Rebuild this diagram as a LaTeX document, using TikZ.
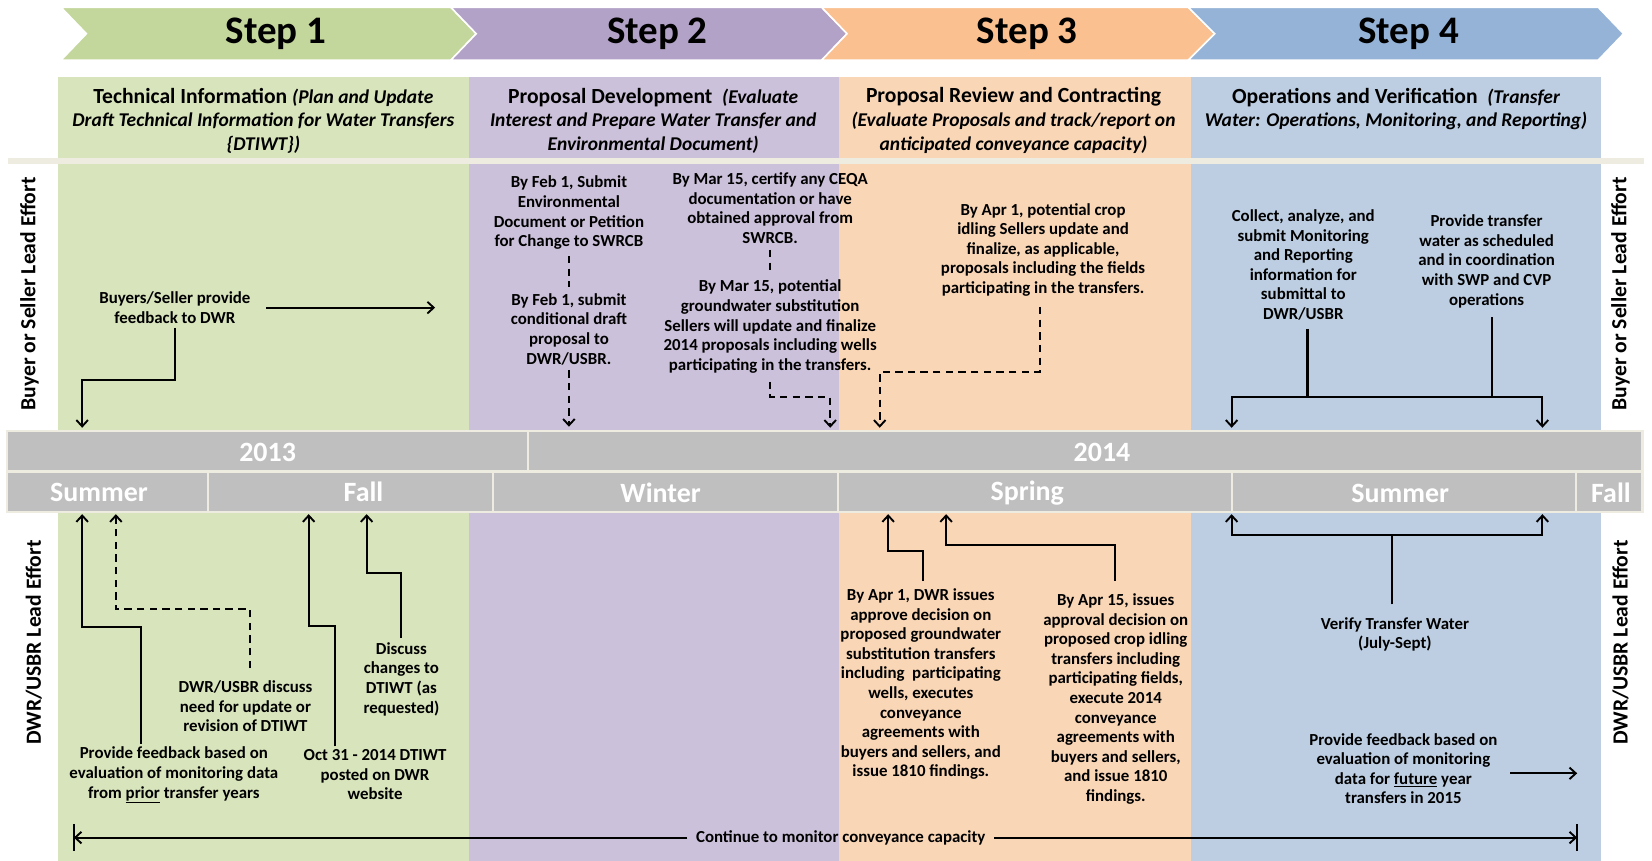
\documentclass[tikz,border=0pt]{standalone}
\usepackage{fontspec}
\setmainfont{Carlito}
\usetikzlibrary{arrows.meta,calc}
\definecolor{chA}{HTML}{C3D69B}
\definecolor{chB}{HTML}{B3A2C7}
\definecolor{chC}{HTML}{FAC090}
\definecolor{chD}{HTML}{95B3D7}
\definecolor{coA}{HTML}{D8E4BC}
\definecolor{coB}{HTML}{CCC1DA}
\definecolor{coC}{HTML}{F9D6B6}
\definecolor{coD}{HTML}{BDCEE2}
\definecolor{barG}{HTML}{BFBFBF}
\definecolor{cream}{HTML}{EEECE1}
\newcommand\hit[1]{{\fontsize{18.5}{22.5}\selectfont\itshape #1}}
\begin{document}
\begin{tikzpicture}[x=1pt,y=-1pt,
  chev/.style={draw=white,line width=1.5pt},
  steptxt/.style={font=\bfseries\fontsize{37}{40}\selectfont},
  hd/.style={font=\bfseries\fontsize{20.5}{22.5}\selectfont,align=center,inner sep=1pt},
  tx/.style={font=\bfseries\fontsize{16}{18.6}\selectfont,align=center,inner sep=2pt},
  side/.style={font=\bfseries\fontsize{20.5}{22}\selectfont,rotate=90,inner sep=0pt},
  bartxt/.style={font=\bfseries\fontsize{26.5}{28}\selectfont,text=white,inner sep=0pt},
  ln/.style={line width=1.9pt,draw=black},
  dl/.style={ln,dash pattern=on 7pt off 5pt},
  arr/.style={-{Straight Barb[length=6pt,width=11pt,line width=1.8pt]}}]
\useasboundingbox (0,0) rectangle (1568,817);
\fill[white] (0,0) rectangle (1568,817);
% columns
\fill[coA] (55,73) rectangle (445,817);
\fill[coB] (445,73) rectangle (796,817);
\fill[coC] (796,73) rectangle (1130,817);
\fill[coD] (1130,73) rectangle (1520,817);
\fill[cream] (8,150) rectangle (1560,156);
% chevrons
\filldraw[chev,fill=chA] (58,7) -- (428,7) -- (452,32) -- (428,57) -- (58,57) -- (82,32) -- cycle;
\filldraw[chev,fill=chB] (428,7) -- (780,7) -- (804,32) -- (780,57) -- (428,57) -- (452,32) -- cycle;
\filldraw[chev,fill=chC] (780,7) -- (1128,7) -- (1153,32) -- (1128,57) -- (780,57) -- (804,32) -- cycle;
\filldraw[chev,fill=chD] (1128,7) -- (1517,7) -- (1541,32) -- (1517,57) -- (1128,57) -- (1153,32) -- cycle;
\node[steptxt] (s1) at (262,32) {Step 1};
\node[steptxt] (s2) at (624,32) {Step 2};
\node[steptxt] (s3) at (975,32) {Step 3};
\node[steptxt] (s4) at (1337,32) {Step 4};
% headers
\node[hd] (h1) at (250,114.5) {Technical Information \hit{(Plan and Update}\\ \hit{Draft Technical Information for Water Transfers}\\ \hit{\{DTIWT\})}};
\node[hd] (h2) at (620,114.5) {Proposal Development \ \hit{(Evaluate}\\ \hit{Interest and Prepare Water Transfer and}\\ \hit{Environmental Document)}};
\node[hd] (h3) at (962,114.5) {Proposal Review and Contracting\\ \hit{(Evaluate Proposals and track/report on}\\ \hit{anticipated conveyance capacity)}};
\node[hd] (h4) at (1325,103.5) {Operations and Verification \ \hit{(Transfer}\\ \hit{Water: Operations, Monitoring, and Reporting)}};
% side labels
\node[side] (sl1) at (28,279) {Buyer or Seller Lead Effort};
\node[side] (sr1) at (1538,279) {Buyer or Seller Lead Effort};
\node[side] (sl2) at (32,610) {DWR/USBR Lead Effort};
\node[side] (sr2) at (1538,610) {DWR/USBR Lead Effort};
% bars
\fill[cream] (6,408) rectangle (1560,487);
\fill[barG] (8,410) rectangle (500,446);
\fill[barG] (502,410) rectangle (1558,446);
\fill[barG] (8,449) rectangle (196,485);
\fill[barG] (198,449) rectangle (467,485);
\fill[barG] (469,449) rectangle (794,485);
\fill[barG] (796,449) rectangle (1168,485);
\fill[barG] (1170,449) rectangle (1495,485);
\fill[barG] (1497,449) rectangle (1558,485);
\node[bartxt] (y13) at (254,429) {2013};
\node[bartxt] (y14) at (1046,429) {2014};
\node[bartxt] (se1) at (94,467) {Summer};
\node[bartxt] (se2) at (345,467) {Fall};
\node[bartxt] (se3) at (627,468) {Winter};
\node[bartxt] (se4) at (975,468) {Spring};
\node[bartxt] (se5) at (1329,468) {Summer};
\node[bartxt] (se6) at (1529,468) {Fall};
% ---------- upper texts
\node[tx] (bsfb) at (166,292) {Buyers/Seller provide\\feedback to DWR};
\node[tx] (feba) at (540,202) {By Feb 1, Submit\\Environmental\\Document or Petition\\for Change to SWRCB};
\node[tx] (febb) at (540,312.5) {By Feb 1, submit\\conditional draft\\proposal to\\DWR/USBR.};
\node[tx] (mara) at (731,197.5) {By Mar 15, certify any CEQA\\documentation or have\\obtained approval from\\SWRCB.};
\node[tx] (marb) at (731,310) {By Mar 15, potential\\groundwater substitution\\Sellers will update and finalize\\2014 proposals including wells\\participating in the transfers.};
\node[tx] (apra) at (990,237) {By Apr 1, potential crop\\idling Sellers update and\\finalize, as applicable,\\proposals including the fields\\participating in the transfers.};
\node[tx] (coll) at (1237,251.5) {Collect, analyze, and\\submit Monitoring\\and Reporting\\information for\\submittal to\\DWR/USBR};
\node[tx] (prov) at (1411,248) {Provide transfer\\water as scheduled\\and in coordination\\with SWP and CVP\\operations};
% ---------- lower texts
\node[tx] (prior) at (165,735.5) {Provide feedback based on\\evaluation of monitoring data\\from \underline{prior} transfer years};
\node[tx] (ddisc) at (233,670.5) {DWR/USBR discuss\\need for update or\\revision of DTIWT};
\node[tx] (oct) at (356,735.5) {Oct 31 - 2014 DTIWT\\posted on DWR\\website};
\node[tx] (disc) at (381,644.5) {Discuss\\changes to\\DTIWT (as\\requested)};
\node[tx] (aprdwr) at (874,649.5) {By Apr 1, DWR issues\\approve decision on\\proposed groundwater\\substitution transfers\\including \ participating\\wells, executes\\conveyance\\agreements with\\buyers and sellers, and\\issue 1810 findings.};
\node[tx] (aprf) at (1059,663.5) {By Apr 15, issues\\approval decision on\\proposed crop idling\\transfers including\\participating fields,\\execute 2014\\conveyance\\agreements with\\buyers and sellers,\\and issue 1810\\findings.};
\node[tx] (verif) at (1324,602) {Verify Transfer Water\\(July-Sept)};
\node[tx] (fut) at (1332,729.5) {Provide feedback based on\\evaluation of monitoring\\data for \underline{future} year\\transfers in 2015};
\node[tx] (cont) at (798,795) {Continue to monitor conveyance capacity};
% ---------- coordinates
\coordinate (u1) at (78,406);  \coordinate (b1) at (78,361);
\coordinate (r1) at (413,292);
\coordinate (u2) at (540,405);
\coordinate (b3) at (788,377); \coordinate (u3) at (788,406);
\coordinate (b4) at (835,353); \coordinate (u4) at (835,406);
\coordinate (j1) at (1241,377); \coordinate (j2) at (1416,377);
\coordinate (u5) at (1169,406); \coordinate (u6) at (1464,406);
\coordinate (p1) at (134,595); \coordinate (d1) at (78,488);
\coordinate (p2) at (237,578); \coordinate (d2) at (110,488);
\coordinate (p3) at (318,594); \coordinate (d3) at (293,488);
\coordinate (p4) at (381,544); \coordinate (d4) at (348,488);
\coordinate (p5) at (876,523); \coordinate (d5) at (843,488);
\coordinate (p6) at (1058,517); \coordinate (d6) at (898,488);
\coordinate (j3) at (1321,508); \coordinate (d7) at (1169,488); \coordinate (d8) at (1464,488);
\coordinate (f1) at (1497,734);
\coordinate (c1) at (70,795); \coordinate (c2) at (1497,795);
% ---------- upper connectors
\draw[ln,arr] ($(bsfb.east)+(13,0)$) -- (r1);
\draw[ln,arr] ($(bsfb.south)+(0,2)$) |- (b1) -- (u1);
\draw[dl] ($(feba.south)+(0,4)$) -- ($(febb.north)+(0,-4)$);
\draw[dl,arr] ($(febb.south)+(0,3)$) -- (u2);
\draw[dl] ($(mara.south)+(0,4)$) -- ($(marb.north)+(0,-4)$);
\draw[dl,arr] ($(marb.south)+(0,6)$) |- (b3) -- (u3);
\draw[dl,arr] ($(apra.south)+(-3,8)$) |- (b4) -- (u4);
\draw[ln] ($(coll.south -| j1)+(0,6)$) -- (j1);
\draw[ln] ($(prov.south -| j2)+(0,7)$) -- (j2);
\draw[ln] (j1) -- (j2);
\draw[ln,arr] (j1) -| (u5);
\draw[ln,arr] (j2) -| (u6);
% ---------- lower connectors
\draw[ln,arr] ($(prior.north -| p1)+(0,-1)$) -- (p1) -| (d1);
\draw[dl,arr] ($(ddisc.north -| p2)+(0,-10)$) -- (p2) -| (d2);
\draw[ln,arr] ($(oct.north -| p3)+(0,-1)$) -- (p3) -| (d3);
\draw[ln,arr] ($(disc.north -| p4)+(0,-2)$) -- (p4) -| (d4);
\draw[ln,arr] ($(aprdwr.north -| p5)+(0,-5)$) -- (p5) -| (d5);
\draw[ln,arr] ($(aprf.north -| p6)+(0,-10)$) -- (p6) -| (d6);
\draw[ln] ($(verif.north -| j3)+(0,-10)$) -- (j3);
\draw[ln,arr] (j3) -| (d7);
\draw[ln,arr] (j3) -| (d8);
\draw[ln,arr] ($(fut.east)+(10,4.5)$) -- (f1);
\draw[ln,arr] ($(cont.west)+(-6,0)$) -- (c1);
\draw[ln,arr] ($(cont.east)+(6,0)$) -- (c2);
\draw[ln] ($(c1)+(0,-13)$) -- ($(c1)+(0,13)$);
\draw[ln] ($(c2)+(0,-13)$) -- ($(c2)+(0,13)$);
\end{tikzpicture}
\end{document}
